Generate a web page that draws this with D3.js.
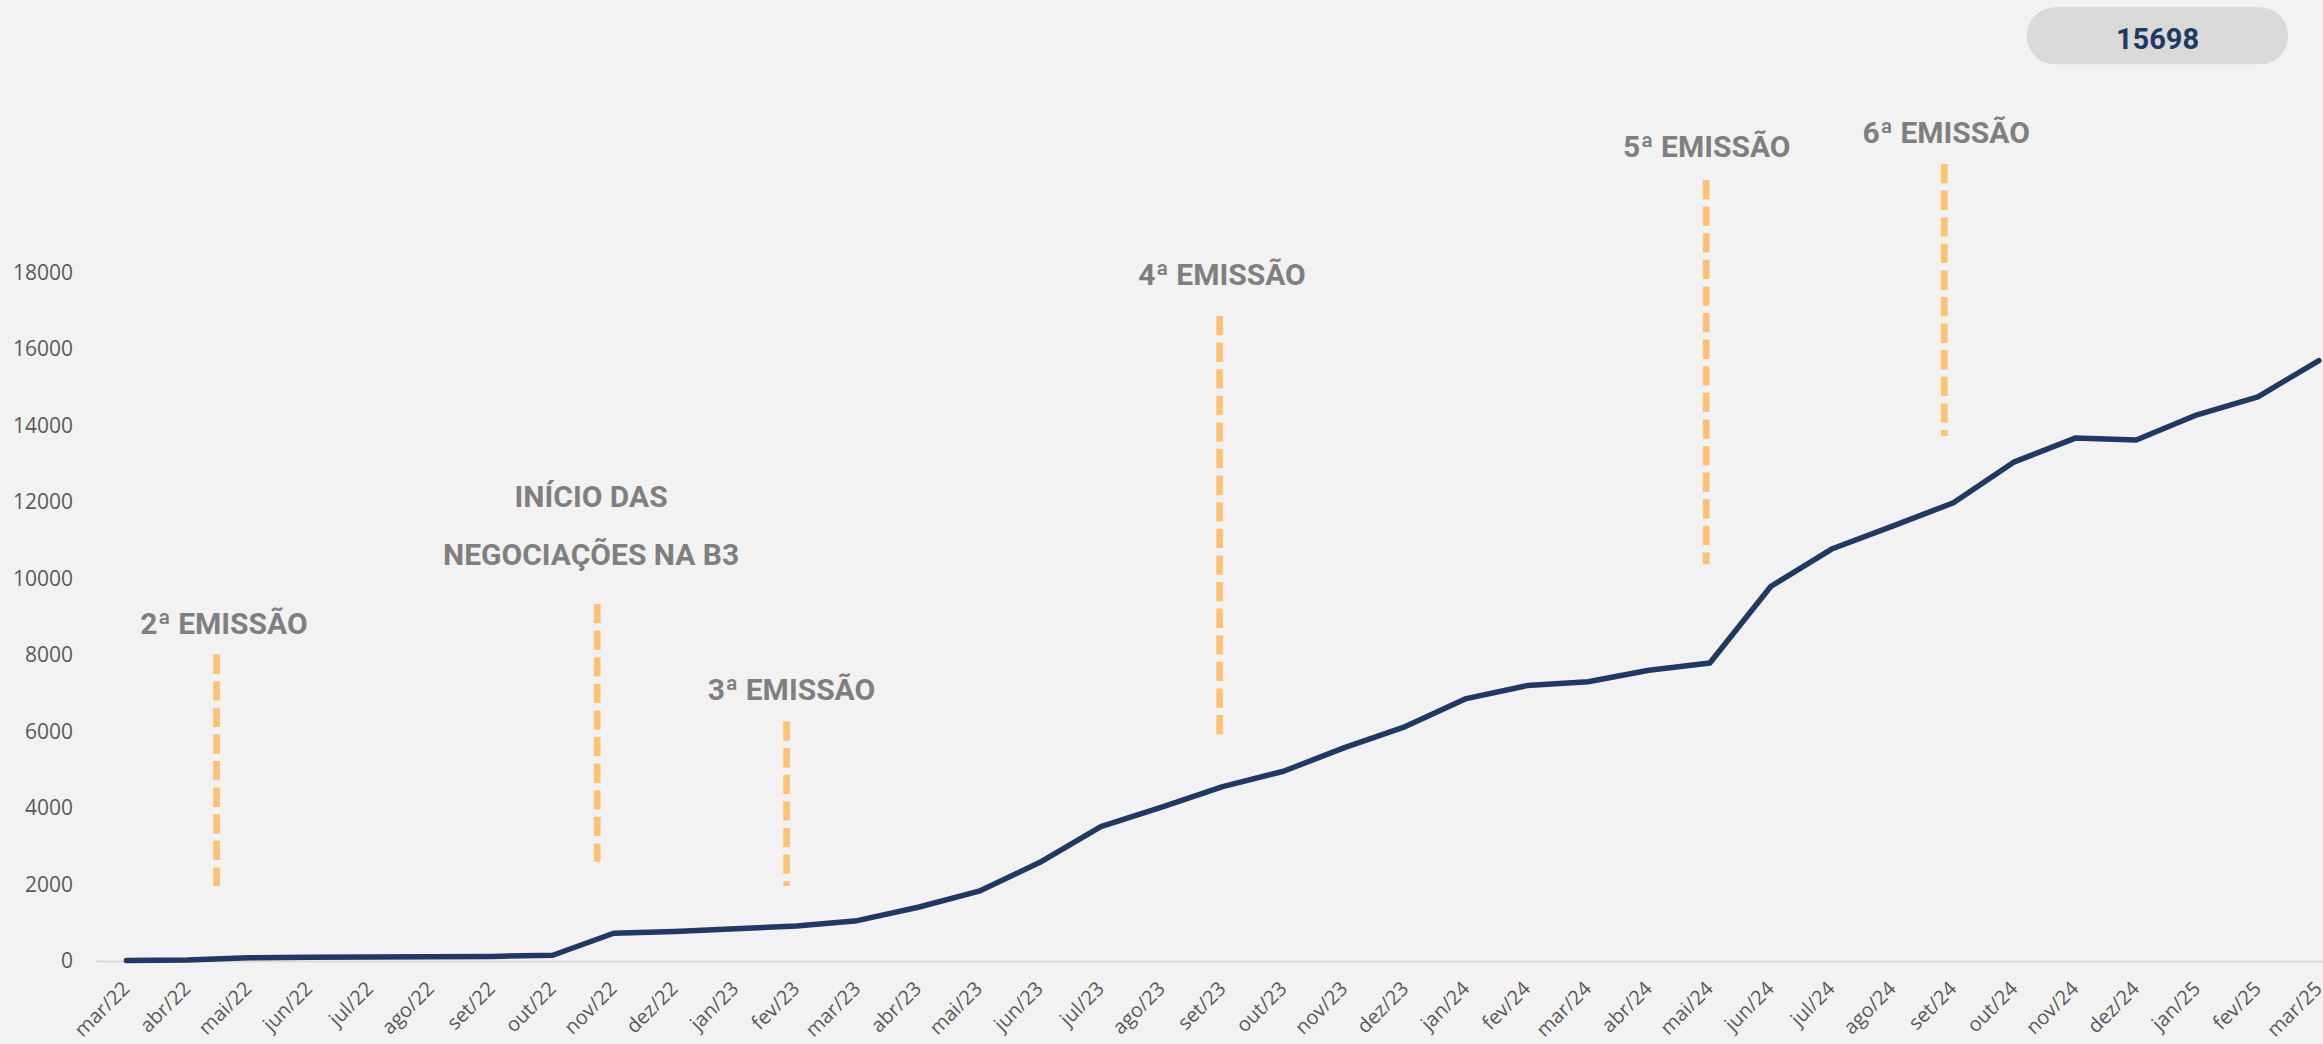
<!doctype html>
<html lang=pt>
<head>
  <meta charset=utf-8>
  <title>Investidores por mês</title>
  <script src="https://cdn.jsdelivr.net/npm/d3@7"></script>
  <style>
    html, body {
      margin: 0;
      background: #f2f2f2;
    }
    svg {
      display: block;
    }
    .axis text {
      font-family: "Open Sans", sans-serif;
      font-size: 20px;
      fill: #595959;
    }
    .y-axis text {
      font-size: 21px;
    }
    .note {
      font-family: Roboto, sans-serif;
      font-weight: 700;
      font-size: 30px;
      fill: #7f7f7f;
    }
    .badge-text {
      font-family: Roboto, sans-serif;
      font-weight: 700;
      font-size: 29px;
      fill: #1f3864;
    }
  </style>
</head>
<body>
<svg id=chart></svg>
<script>
  const months = [
    'mar/22', 'abr/22', 'mai/22', 'jun/22', 'jul/22', 'ago/22', 'set/22', 'out/22', 'nov/22', 'dez/22',
    'jan/23', 'fev/23', 'mar/23', 'abr/23', 'mai/23', 'jun/23', 'jul/23', 'ago/23', 'set/23', 'out/23', 'nov/23', 'dez/23',
    'jan/24', 'fev/24', 'mar/24', 'abr/24', 'mai/24', 'jun/24', 'jul/24', 'ago/24', 'set/24', 'out/24', 'nov/24', 'dez/24',
    'jan/25', 'fev/25', 'mar/25',
  ]
  const investors = [
    15, 25, 85, 100, 105, 110, 120, 150, 725, 770,
    840, 915, 1055, 1405, 1825, 2580, 3510, 4020, 4560, 4960, 5580, 6130,
    6860, 7200, 7300, 7600, 7790, 9790, 10770, 11370, 11980, 13050, 13670, 13620,
    14280, 14750, 15698,
  ]
  const yTicks = [0, 2000, 4000, 6000, 8000, 10000, 12000, 14000, 16000, 18000]

  // at = position in months (fractional index), from/to = values on the y scale
  const events = [
    { label: ['2ª EMISSÃO'], at: 1.48, from: 1960, to: 8010, labelAt: 1.60, labelY: 8550 },
    { label: ['INÍCIO DAS', 'NEGOCIAÇÕES NA B3'], at: 7.73, from: 2596, to: 9333, labelAt: 7.63, labelY: 11877 },
    { label: ['3ª EMISSÃO'], at: 10.84, from: 1960, to: 6261, labelAt: 10.92, labelY: 6824 },
    { label: ['4ª EMISSÃO'], at: 17.95, from: 5890, to: 16863, labelAt: 17.99, labelY: 17673 },
    { label: ['5ª EMISSÃO'], at: 25.94, from: 10371, to: 20418, labelAt: 25.95, labelY: 21027 },
    { label: ['6ª EMISSÃO'], at: 29.85, from: 13725, to: 20837, labelAt: 29.88, labelY: 21394 },
  ]

  const width = 2323
  const height = 1044
  const plotLeft = 96
  const step = 60.9
  const baseY = 961
  const topY = 272.5

  const svg = d3.select('#chart')
    .attr('width', width)
    .attr('height', height)

  const x = d3.scalePoint()
    .domain(months)
    .range([plotLeft, plotLeft + months.length * step])
    .padding(0.5)
  const xi = d3.scaleLinear()
    .domain([0, months.length - 1])
    .range([x(months[0]), x(months[months.length - 1])])
  const y = d3.scaleLinear()
    .domain([0, 18000])
    .range([baseY, topY])

  // y axis, labels only
  const gy = svg.append('g')
    .attr('class', 'axis y-axis')
    .attr('transform', 'translate(' + plotLeft + ',0)')
    .call(d3.axisLeft(y).tickValues(yTicks).tickFormat(d3.format('d')).tickSize(0).tickPadding(23))
  gy.attr('font-family', null).attr('font-size', null)
  gy.select('.domain').remove()

  // x axis with rotated month labels
  const gx = svg.append('g')
    .attr('class', 'axis')
    .attr('transform', 'translate(0,' + baseY + ')')
    .call(d3.axisBottom(x).tickSize(0).tickSizeOuter(0))
  gx.attr('font-family', null).attr('font-size', null)
  gx.select('.domain')
    .attr('stroke', '#d9d9d9')
    .attr('stroke-width', 2)
  gx.selectAll('.tick text')
    .attr('x', 0)
    .attr('y', 0)
    .attr('dy', 0)
    .attr('text-anchor', 'end')
    .attr('transform', 'translate(4,29) rotate(-45)')

  // event markers
  const ev = svg.append('g')
    .selectAll('g')
    .data(events)
    .enter()
    .append('g')

  ev.append('line')
    .attr('x1', d => xi(d.at))
    .attr('x2', d => xi(d.at))
    .attr('y1', d => y(d.to))
    .attr('y2', d => y(d.from))
    .attr('stroke', '#ffc174')
    .attr('stroke-width', 6.7)
    .attr('stroke-dasharray', '19.3 7.3')

  ev.append('text')
    .attr('class', 'note')
    .attr('text-anchor', 'middle')
    .attr('x', d => xi(d.labelAt))
    .attr('y', d => y(d.labelY))
    .selectAll('tspan')
    .data(d => d.label.map((t, i) => ({ t, i, x: xi(d.labelAt) })))
    .enter()
    .append('tspan')
      .attr('x', d => d.x)
      .attr('dy', d => d.i === 0 ? 0 : '1.94em')
      .text(d => d.t)

  // the series
  svg.append('path')
    .datum(investors)
    .attr('fill', 'none')
    .attr('stroke', '#203864')
    .attr('stroke-width', 5.5)
    .attr('stroke-linejoin', 'round')
    .attr('stroke-linecap', 'round')
    .attr('d', d3.line()
      .x((d, i) => x(months[i]))
      .y(d => y(d)))

  // total badge
  const badge = svg.append('g')
  badge.append('rect')
    .attr('x', 2026.7)
    .attr('y', 7.3)
    .attr('width', 261.6)
    .attr('height', 57)
    .attr('rx', 28.5)
    .attr('fill', '#d9d9d9')
  badge.append('text')
    .attr('class', 'badge-text')
    .attr('x', 2157.5)
    .attr('y', 49)
    .attr('text-anchor', 'middle')
    .text(investors[investors.length - 1])
</script>
</body>
</html>
